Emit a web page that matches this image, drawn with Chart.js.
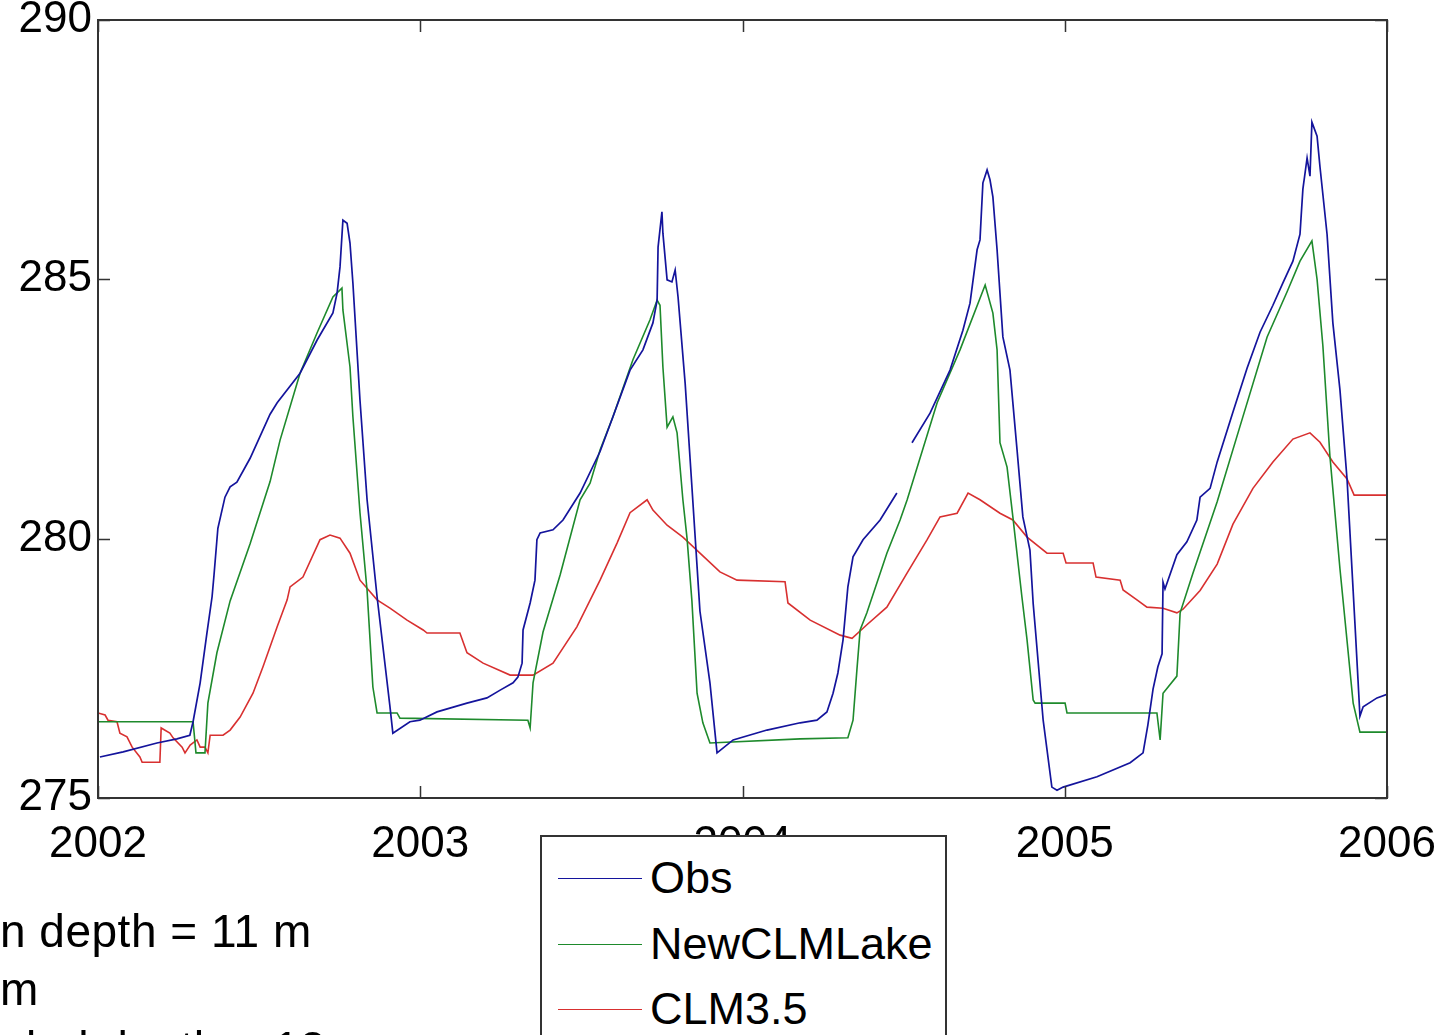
<!DOCTYPE html>
<html>
<head>
<meta charset="utf-8">
<script src="https://cdn.jsdelivr.net/npm/chart.js@4"></script>
<style>
  html, body { margin: 0; padding: 0; background: #fff; overflow: hidden; }
  #wrap { position: relative; width: 1441px; height: 1035px; overflow: hidden; font-family: "Liberation Sans", Arial, sans-serif; }
  #c { position: absolute; left: 0; top: 0; }
  .note { position: absolute; left: 0; font-size: 46px; color: #000; white-space: nowrap; line-height: 1; letter-spacing: 0.5px; }
  #legend { position: absolute; left: 540px; top: 835px; width: 403px; height: 230px; background: #fff; border: 2px solid #333; }
  .lg-row { position: absolute; left: 0; height: 50px; }
  .lg-line { position: absolute; left: 16px; width: 84px; height: 0; top: 24px; }
  .lg-text { position: absolute; left: 108px; top: 1px; font-size: 45px; line-height: 45px; color: #000; white-space: nowrap; }
</style>
</head>
<body>
<div id="wrap">
  <canvas id="c" width="1441" height="1035"></canvas>
  <div class="note" style="top:908px;">n depth = 11 m</div>
  <div class="note" style="top:966px;">m</div>
  <div class="note" style="top:1025px;">olad depth = 12 m</div>
  <div id="legend"></div>
</div>
<script>
// ---- tick labels ----
const yearTicks = [2002, 2003, 2004, 2005, 2006];
const tempTicks = [275, 280, 285, 290];

// ---- series names ----
const seriesNames = ["Obs", "NewCLMLake", "CLM3.5"];

// ---- Obs (blue) ----
const obsX = [2002.006,2002.078,2002.183,2002.245,2002.285,2002.295,2002.317,2002.338,2002.354,2002.360,2002.372,2002.394,2002.410,2002.431,2002.472,2002.534,2002.556,2002.627,2002.680,2002.729,2002.742,2002.751,2002.760,2002.773,2002.782,2002.791,2002.813,2002.835,2002.866,2002.906,2002.915,2002.968,2002.999,
  2003.052,2003.145,2003.207,2003.248,2003.288,2003.303,2003.316,2003.319,2003.341,2003.356,2003.362,2003.372,2003.412,2003.443,2003.496,2003.558,2003.598,2003.651,2003.691,2003.722,2003.735,2003.738,2003.750,2003.753,2003.766,2003.781,2003.791,2003.800,2003.822,2003.843,2003.868,2003.899,2003.921,2003.971,
  2004.076,2004.179,2004.231,2004.262,2004.281,2004.296,2004.312,2004.327,2004.343,2004.374,2004.427,2004.479,2004.500,2004.526,2004.582,2004.644,2004.684,2004.706,2004.728,2004.737,2004.746,2004.759,2004.768,2004.777,2004.790,2004.808,2004.830,2004.852,2004.870,2004.892,2004.902,2004.933,2004.960,2004.976,2004.995,
  2005.100,2005.203,2005.243,2005.258,2005.274,2005.289,2005.302,2005.305,2005.311,2005.348,2005.379,2005.410,2005.420,2005.451,2005.473,2005.522,2005.566,2005.606,2005.646,2005.677,2005.708,2005.730,2005.739,2005.752,2005.761,2005.767,2005.783,2005.792,2005.814,2005.832,2005.854,2005.876,2005.895,2005.910,2005.916,2005.926,2005.969,2006.000];
const obsY = [275.79,275.89,276.06,276.14,276.21,276.47,277.22,278.18,278.88,279.30,280.20,280.80,281.00,281.09,281.55,282.40,282.62,283.19,283.83,284.35,284.74,285.24,286.14,286.08,285.70,284.93,282.67,280.75,278.88,276.76,276.25,276.47,276.50,
  276.66,276.83,276.93,277.08,277.22,277.33,277.60,278.24,278.76,279.20,279.98,280.11,280.17,280.36,280.88,281.68,282.35,283.25,283.64,284.16,284.60,285.62,286.30,285.89,284.99,284.95,285.18,284.66,283.00,281.00,278.60,277.22,275.87,276.12,
  276.31,276.45,276.50,276.66,277.02,277.41,278.05,279.07,279.65,279.98,280.36,280.88,null,281.85,282.42,283.25,284.02,284.54,285.57,285.76,286.86,287.11,286.92,286.59,285.57,283.89,283.25,281.71,280.42,279.78,278.75,276.50,275.21,275.15,275.21,
  275.41,275.68,275.87,276.41,277.10,277.53,277.78,279.16,279.03,279.69,279.94,280.36,280.80,280.97,281.48,282.44,283.29,283.98,284.50,284.93,285.35,285.87,286.74,287.34,286.99,288.03,287.76,287.17,285.87,284.16,282.87,281.15,278.99,277.28,276.58,276.76,276.93,277.00];

// ---- NewCLMLake (green) ----
const newX = [2002.000,2002.295,2002.304,2002.332,2002.341,2002.369,2002.410,2002.472,2002.534,2002.565,2002.627,2002.680,2002.729,2002.757,2002.760,2002.782,2002.791,2002.813,2002.835,2002.853,2002.866,2002.928,2002.937,
  2003.334,2003.341,2003.350,2003.381,2003.434,2003.496,2003.527,2003.558,2003.598,2003.660,2003.713,2003.735,2003.744,2003.753,2003.766,2003.784,2003.797,2003.815,2003.828,2003.843,2003.859,2003.877,2003.899,
  2004.179,2004.327,2004.343,2004.355,2004.365,2004.386,2004.448,2004.489,2004.511,2004.604,2004.675,2004.753,2004.777,2004.790,2004.799,2004.821,2004.839,2004.867,2004.883,2004.902,2004.908,
  2005.001,2005.007,2005.286,2005.296,2005.305,2005.348,2005.358,2005.398,2005.473,2005.544,2005.628,2005.690,2005.730,2005.767,2005.783,2005.801,2005.823,2005.854,2005.895,2005.916,2006.000];
const newY = [276.47,276.47,275.87,275.87,276.83,277.80,278.80,279.90,281.10,281.90,283.19,283.97,284.66,284.83,284.41,283.31,282.35,280.50,279.00,277.14,276.64,276.64,276.54,
  276.50,276.35,277.22,278.20,279.30,280.75,281.07,281.71,282.35,283.45,284.22,284.60,284.50,283.31,282.15,282.35,282.04,280.75,280.00,278.80,277.02,276.45,276.06,
  276.14,276.16,276.50,277.47,278.24,278.57,279.72,280.36,280.75,282.62,283.64,284.89,284.35,283.64,281.85,281.38,280.42,278.88,278.05,276.89,276.83,
  276.83,276.64,276.64,276.12,277.02,277.35,278.57,279.34,280.71,282.17,283.89,284.76,285.35,285.74,285.00,283.72,281.58,279.42,276.83,276.27,276.27];

// ---- CLM3.5 (red) ----
const clmX = [2002.000,2002.022,2002.031,2002.059,2002.068,2002.090,2002.106,2002.130,2002.137,2002.192,2002.196,2002.223,2002.233,2002.261,2002.270,2002.286,2002.307,2002.317,2002.332,2002.341,2002.348,2002.388,2002.410,2002.441,2002.481,2002.512,2002.556,2002.587,2002.596,2002.636,2002.689,2002.720,2002.751,2002.782,2002.813,2002.866,2002.906,2002.959,
  2003.009,2003.021,2003.123,2003.145,2003.195,2003.279,2003.350,2003.412,2003.486,2003.558,2003.611,2003.651,2003.704,2003.722,2003.766,2003.815,2003.868,2003.930,2003.983,
  2004.132,2004.141,2004.210,2004.303,2004.340,2004.386,2004.448,2004.511,2004.573,2004.613,2004.666,2004.700,2004.737,2004.799,2004.839,2004.883,2004.945,2004.995,
  2005.004,2005.088,2005.097,2005.172,2005.181,2005.224,2005.255,2005.305,2005.348,2005.367,2005.420,2005.473,2005.522,2005.584,2005.646,2005.708,2005.761,2005.792,2005.832,2005.876,2005.898,2006.000];
const clmY = [276.64,276.60,276.50,276.47,276.25,276.18,275.98,275.79,275.69,275.69,276.35,276.25,276.16,275.98,275.87,276.02,276.12,275.98,275.98,275.87,276.21,276.21,276.31,276.56,277.02,277.53,278.30,278.82,279.07,279.26,279.98,280.07,280.01,279.72,279.20,278.82,278.66,278.43,
  278.24,278.18,278.18,277.80,277.60,277.37,277.37,277.60,278.30,279.20,279.92,280.50,280.75,280.55,280.26,280.03,279.72,279.36,279.20,
  279.17,278.76,278.43,278.14,278.08,278.34,278.68,279.34,279.98,280.42,280.49,280.88,280.75,280.49,280.36,280.03,279.72,279.72,
  279.53,279.53,279.26,279.20,279.01,278.82,278.68,278.66,278.57,278.64,279.00,279.51,280.28,280.97,281.48,281.92,282.04,281.86,281.48,281.15,280.84,280.84];

const seriesColors = ["#14149c", "#1e8a2c", "#d83030"];

function pts(xs, ys) { return xs.map((x, i) => ({ x: x, y: ys[i] })); }

const PLOT = { left: 98, right: 1387, top: 20, bottom: 798 };

const frame = {
  id: 'frame',
  afterDraw(chart) {
    const ctx = chart.ctx;
    const a = chart.chartArea;
    const xs = chart.scales.x, ys = chart.scales.y;
    ctx.save();
    ctx.strokeStyle = '#333';
    ctx.lineWidth = 1.5;
    const tl = 12;
    xs.ticks.forEach(t => {
      const px = Math.round(xs.getPixelForValue(t.value)) + 0.5;
      ctx.beginPath();
      ctx.moveTo(px, a.bottom); ctx.lineTo(px, a.bottom - tl);
      ctx.moveTo(px, a.top); ctx.lineTo(px, a.top + tl);
      ctx.stroke();
    });
    ys.ticks.forEach(t => {
      const py = Math.round(ys.getPixelForValue(t.value)) + 0.5;
      ctx.beginPath();
      ctx.moveTo(a.left, py); ctx.lineTo(a.left + tl, py);
      ctx.moveTo(a.right, py); ctx.lineTo(a.right - tl, py);
      ctx.stroke();
    });
    ctx.lineWidth = 2;
    ctx.strokeRect(a.left, a.top, a.right - a.left, a.bottom - a.top);
    ctx.restore();
  }
};

const chart = new Chart(document.getElementById('c'), {
  type: 'line',
  data: {
    datasets: [
      { label: seriesNames[0], data: pts(obsX, obsY), borderColor: seriesColors[0], borderWidth: 1.7, pointRadius: 0, tension: 0, spanGaps: false, fill: false },
      { label: seriesNames[1], data: pts(newX, newY), borderColor: seriesColors[1], borderWidth: 1.6, pointRadius: 0, tension: 0, fill: false },
      { label: seriesNames[2], data: pts(clmX, clmY), borderColor: seriesColors[2], borderWidth: 1.6, pointRadius: 0, tension: 0, fill: false }
    ]
  },
  options: {
    responsive: false,
    animation: false,
    devicePixelRatio: 1,
    layout: { padding: { top: PLOT.top, right: 1441 - PLOT.right, left: 0, bottom: 0 } },
    plugins: { legend: { display: false }, tooltip: { enabled: false } },
    scales: {
      x: {
        type: 'linear',
        min: yearTicks[0], max: yearTicks[yearTicks.length - 1],
        afterBuildTicks(scale) { scale.ticks = yearTicks.map(v => ({ value: v })); },
        afterFit(scale) { scale.height = 1035 - PLOT.bottom; scale.paddingLeft = 0; scale.paddingRight = 0; },
        ticks: { callback: v => String(v), font: { family: '"Liberation Sans", Arial, sans-serif', size: 44 }, color: '#000', padding: 20, maxRotation: 0, autoSkip: false },
        grid: { drawOnChartArea: false, drawTicks: false },
        border: { display: true, color: '#333', width: 2 }
      },
      y: {
        min: tempTicks[0], max: tempTicks[tempTicks.length - 1],
        afterBuildTicks(scale) { scale.ticks = tempTicks.map(v => ({ value: v })); },
        afterFit(scale) { scale.width = PLOT.left; scale.paddingTop = 0; scale.paddingBottom = 0; },
        ticks: { callback: v => String(v), font: { family: '"Liberation Sans", Arial, sans-serif', size: 44 }, color: '#000', padding: 6 },
        grid: { drawOnChartArea: false, drawTicks: false },
        border: { display: true, color: '#333', width: 2 }
      }
    }
  },
  plugins: [frame]
});

// HTML legend built from the chart's datasets
const lg = document.getElementById('legend');
chart.data.datasets.forEach((ds, i) => {
  const row = document.createElement('div');
  row.className = 'lg-row';
  row.style.top = (17 + i * 65.5) + 'px';
  row.innerHTML = '<div class="lg-line" style="border-top:1.6px solid ' + ds.borderColor + '"></div><div class="lg-text">' + ds.label + '</div>';
  lg.appendChild(row);
});
</script>
</body>
</html>
